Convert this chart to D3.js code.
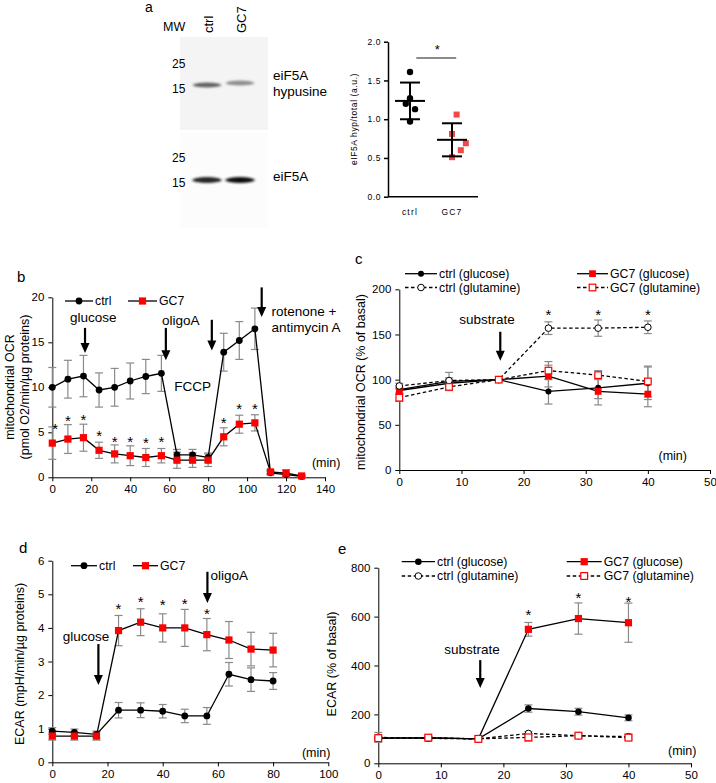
<!DOCTYPE html>
<html><head><meta charset="utf-8">
<script src="https://cdn.jsdelivr.net/npm/d3@7"></script>
<style>
body{margin:0;background:#fff;}
text{font-family:"Liberation Sans",Arial,sans-serif;fill:#000;}
</style></head>
<body>
<script>
// ---------------- DATA ----------------
// panel a : western blot + quantification
const blotLanes = ["ctrl", "GC7"];
const mwLabels = ["25", "15"];
const bandHypusine = [0.62, 0.42];   // relative band intensity
const bandTotal = [0.9, 1.0];
const ratioCtrl = [1.61, 1.27, 1.20, 1.13, 0.97];
const ratioGC7 = [1.06, 0.81, 0.69, 0.60, 0.51];
const jitterCtrl = [0, 0, -0.1, 0.12, 0];
const jitterGC7 = [0.11, 0, 0.33, 0.21, 0];
const scatterTicks = [0.0, 0.5, 1.0, 1.5, 2.0];

// panel b : mitochondrial OCR
const timeB = [0, 8, 16, 24, 32, 40, 48, 56, 64, 72, 80, 88, 96, 104, 112, 120, 128];
const ocrCtrl = [10.0, 10.9, 11.25, 9.7, 10.0, 10.7, 11.2, 11.55, 2.5, 2.5, 2.2, 13.9, 15.2, 16.5, 0.5, 0.3, 0.1];
const ocrCtrlErr = [2.2, 2.1, 2.3, 1.9, 2.1, 2.0, 1.9, 2.0, 0.6, 0.6, 0.5, 2.1, 2.1, 2.3, 0.2, 0.2, 0.1];
const ocrGC7 = [3.8, 4.25, 4.4, 3.0, 2.6, 2.4, 2.2, 2.4, 1.9, 1.9, 1.9, 4.5, 5.9, 6.05, 0.6, 0.45, 0.15];
const ocrGC7Err = [1.8, 1.6, 1.5, 0.9, 1.0, 1.1, 1.0, 0.8, 0.9, 0.8, 0.7, 1.0, 1.0, 0.9, 0.2, 0.4, 0.1];
const starTimeB = [1.5, 8, 16, 24, 32, 40, 48, 56, 88, 96, 104];
const starValB = [5.6, 6.5, 6.6, 4.8, 4.1, 4.1, 4.0, 4.1, 6.3, 7.8, 7.85];
const ticksXB = [0, 20, 40, 60, 80, 100, 120, 140];
const ticksYB = [0, 5, 10, 15, 20];

// panel c : OCR % of basal
const timeC = [0, 8, 16, 24, 32, 40];
const cCtrlGlc = [89, 98, 100, 87, 91, 96];
const cCtrlGlcErr = [4, 10, 0, 14, 12, 18];
const cGC7Glc = [88, 96, 100, 104, 87, 84];
const cGC7GlcErr = [3, 4, 0, 12, 15, 14];
const cCtrlGln = [93, 99, 100, 157, 157, 158];
const cCtrlGlnErr = [3, 3, 0, 7, 9, 7];
const cGC7Gln = [80, 92, 100, 110, 105, 98];
const cGC7GlnErr = [4, 4, 0, 10, 5, 17];
const starTimeC = [24, 32, 40];
const starValC = [174, 174, 174];
const ticksXC = [0, 10, 20, 30, 40, 50];
const ticksYC = [0, 50, 100, 150, 200];

// panel d : ECAR
const timeD = [0, 8, 16, 24, 32, 40, 48, 56, 64, 72, 80];
const ecarCtrl = [0.93, 0.89, 0.83, 1.55, 1.55, 1.52, 1.38, 1.38, 2.62, 2.46, 2.42];
const ecarCtrlErr = [0.1, 0.1, 0.1, 0.23, 0.22, 0.2, 0.2, 0.25, 0.35, 0.35, 0.25];
const ecarGC7 = [0.78, 0.78, 0.78, 3.92, 4.17, 4.0, 4.0, 3.8, 3.64, 3.37, 3.34];
const ecarGC7Err = [0.12, 0.12, 0.12, 0.45, 0.4, 0.42, 0.55, 0.48, 0.55, 0.5, 0.5];
const starTimeD = [24, 32, 40, 48, 56];
const starValD = [4.61, 4.83, 4.73, 4.76, 4.46];
const ticksXD = [0, 20, 40, 60, 80, 100];
const ticksYD = [0, 1, 2, 3, 4, 5, 6];

// panel e : ECAR % of basal
const timeE = [0, 8, 16, 24, 32, 40];
const eCtrlGlc = [104, 104, 100, 224, 211, 186];
const eCtrlGlcErr = [5, 4, 0, 15, 14, 12];
const eGC7Glc = [102, 104, 100, 548, 592, 575];
const eGC7GlcErr = [4, 4, 0, 28, 64, 80];
const eCtrlGln = [106, 102, 100, 122, 113, 109];
const eCtrlGlnErr = [20, 5, 0, 8, 8, 10];
const eGC7Gln = [103, 105, 100, 106, 113, 105];
const eGC7GlnErr = [5, 5, 0, 15, 8, 7];
const starTimeE = [24, 32, 40];
const starValE = [615, 683, 669];
const ticksXE = [0, 10, 20, 30, 40, 50];
const ticksYE = [0, 200, 400, 600, 800];

// ---------------- DRAW ----------------
const W = 716, H = 783;
const RED = "#ff0000";
const ERR = "#8a8a8a";
const svg = d3.select("body").append("svg").attr("width", W).attr("height", H);
const defs = svg.append("defs");
defs.append("filter").attr("id", "blur").attr("x", "-50%").attr("y", "-200%").attr("width", "200%").attr("height", "500%")
  .append("feGaussianBlur").attr("stdDeviation", "1.6 1.1");

function label(t, x, y, size, opts = {}) {
  const el = svg.append("text").attr("x", x).attr("y", y).attr("font-size", size).text(t);
  if (opts.anchor) el.attr("text-anchor", opts.anchor);
  if (opts.rotate) el.attr("transform", `rotate(-90,${x},${y})`);
  if (opts.ls) el.attr("letter-spacing", opts.ls);
  if (opts.db) el.attr("dominant-baseline", opts.db);
  return el;
}

// panel letters
label("a", 145, 12, 14);
label("b", 17, 282, 15);
label("c", 355, 264, 15);
label("d", 19, 553, 15);
label("e", 338, 554, 15);

// ---------- panel a : blot ----------
(function () {
  const lane = d3.scalePoint().domain(blotLanes).range([208, 241]);
  label("MW", 163, 31, 12.5);
  blotLanes.forEach(l => label(l, lane(l) + 5, 33, 13, { rotate: true }));
  svg.append("rect").attr("x", 180).attr("y", 37).attr("width", 88).attr("height", 93).attr("fill", "#f4f4f4");
  svg.append("rect").attr("x", 180).attr("y", 133).attr("width", 88).attr("height", 95).attr("fill", "#fcfcfc");
  const mwY1 = d3.scalePoint().domain(mwLabels).range([68, 93]);
  const mwY2 = d3.scalePoint().domain(mwLabels).range([162, 187]);
  mwLabels.forEach(m => { label(m, 172, mwY1(m), 12); label(m, 172, mwY2(m), 12); });
  const gray = d3.scaleLinear().domain([0, 1]).range([235, 15]);
  blotLanes.forEach((l, i) => {
    const g1 = Math.round(gray(bandHypusine[i]));
    svg.append("ellipse").attr("cx", lane(l) - 1).attr("cy", 85 - i * 2).attr("rx", 14).attr("ry", 2.6)
      .attr("fill", `rgb(${g1},${g1},${g1})`).attr("filter", "url(#blur)");
    const g2 = Math.round(gray(bandTotal[i]));
    svg.append("ellipse").attr("cx", lane(l) - 1).attr("cy", 180).attr("rx", 14.5).attr("ry", 3)
      .attr("fill", `rgb(${g2},${g2},${g2})`).attr("filter", "url(#blur)");
  });
  label("eiF5A", 273, 80, 13.5);
  label("hypusine", 273, 96, 13.5);
  label("eiF5A", 273, 181, 13.5);
})();

// ---------- panel a : scatter ----------
(function () {
  const y = d3.scaleLinear().domain([0, 2]).range([196.7, 41.7]);
  const xc = d3.scaleLinear().domain([0, 1]).range([410, 452]);
  const g = svg.append("g");
  const ax = g.append("g").attr("transform", "translate(388,0)")
    .call(d3.axisLeft(y).tickValues(scatterTicks).tickFormat(d3.format(".1f")).tickSize(4).tickSizeOuter(0).tickPadding(3));
  ax.selectAll("text").attr("font-size", 8.5).attr("letter-spacing", 0.6).style("font-family", '"Liberation Sans",Arial');
  ax.selectAll("line,path").attr("stroke", "#000").attr("stroke-width", 1.5);
  g.append("line").attr("x1", 388).attr("x2", 478).attr("y1", y(0)).attr("y2", y(0)).attr("stroke", "#000").attr("stroke-width", 1.5);
  ["ctrl", "GC7"].forEach((t, i) => label(t, xc(i), 215, 8.5, { anchor: "middle", ls: 1.2 }));
  label("eIF5A hyp/total (a.u.)", 357, 119, 8.5, { anchor: "middle", rotate: true, ls: 0.6 });
  const groups = [[ratioCtrl, jitterCtrl], [ratioGC7, jitterGC7]];
  groups.forEach(([vals, jit], i) => {
    const m = d3.mean(vals), s = d3.deviation(vals);
    const cx = xc(i);
    if (i === 0) {
      vals.forEach((v, k) => g.append("circle").attr("cx", xc(i + jit[k])).attr("cy", y(v)).attr("r", 3.2).attr("fill", "#000"));
    } else {
      vals.forEach((v, k) => g.append("rect").attr("x", xc(i + jit[k]) - 3).attr("y", y(v) - 3).attr("width", 6).attr("height", 6).attr("fill", "#f04848"));
    }
    g.append("line").attr("x1", cx - 15).attr("x2", cx + 15).attr("y1", y(m)).attr("y2", y(m)).attr("stroke", "#000").attr("stroke-width", 2);
    g.append("line").attr("x1", cx).attr("x2", cx).attr("y1", y(m + s)).attr("y2", y(m - s)).attr("stroke", "#000").attr("stroke-width", 2);
    [m + s, m - s].forEach(v => g.append("line").attr("x1", cx - 10).attr("x2", cx + 10).attr("y1", y(v)).attr("y2", y(v)).attr("stroke", "#000").attr("stroke-width", 2));
  });
  g.append("line").attr("x1", xc(0.15)).attr("x2", xc(1.1)).attr("y1", y(1.79)).attr("y2", y(1.79)).attr("stroke", "#666").attr("stroke-width", 1.5);
  label("*", xc(0.65), y(1.79) - 4, 13, { anchor: "middle" });
})();

// ---------- generic line panel ----------
function panel(cfg) {
  const x = d3.scaleLinear().domain(cfg.xd).range([cfg.x0, cfg.x1]);
  const y = d3.scaleLinear().domain(cfg.yd).range([cfg.y0, cfg.y1]);
  const g = svg.append("g");
  const ax = g.append("g").attr("transform", `translate(0,${cfg.y0})`)
    .call(d3.axisBottom(x).tickValues(cfg.xt).tickFormat(d3.format("d")).tickSize(4).tickSizeOuter(0).tickPadding(4));
  const ay = g.append("g").attr("transform", `translate(${cfg.x0},0)`)
    .call(d3.axisLeft(y).tickValues(cfg.yt).tickFormat(d3.format("d")).tickSize(4).tickSizeOuter(0).tickPadding(4));
  [ax, ay].forEach(a => {
    a.selectAll("text").attr("font-size", 11.5).style("font-family", '"Liberation Sans",Arial').attr("fill", "#000");
    a.selectAll("line,path").attr("stroke", "#000").attr("stroke-width", 1);
  });
  const line = d3.line().x(d => x(d[0])).y(d => y(d[1]));
  // error bars
  cfg.series.forEach(s => {
    s.t.forEach((t, i) => {
      const e = s.e[i];
      if (!e) return;
      const xx = x(t), a = y(s.v[i] + e), b = y(s.v[i] - e);
      g.append("line").attr("x1", xx).attr("x2", xx).attr("y1", a).attr("y2", b).attr("stroke", ERR).attr("stroke-width", 1.2);
      [a, b].forEach(yy => g.append("line").attr("x1", xx - 4).attr("x2", xx + 4).attr("y1", yy).attr("y2", yy).attr("stroke", ERR).attr("stroke-width", 1.2));
    });
  });
  // lines + markers
  cfg.series.forEach(s => {
    g.append("path").datum(s.t.map((t, i) => [t, s.v[i]])).attr("d", line).attr("fill", "none")
      .attr("stroke", "#000").attr("stroke-width", 1.3).attr("stroke-dasharray", s.dash ? "3.5,2.5" : null);
  });
  cfg.series.forEach(s => {
    s.t.forEach((t, i) => marker(g, s, x(t), y(s.v[i])));
  });
  // stars
  cfg.stars.t.forEach((t, i) => label("*", x(t), y(cfg.stars.v[i]) + 7, 15, { anchor: "middle" }));
  // arrows
  cfg.arrows.forEach(a => arrow(x(a.t), y(a.from), y(a.to)));
  cfg.texts.forEach(tx => label(tx.s, x(tx.t), y(tx.v), tx.size || 13.5, { anchor: tx.anchor || "middle" }));
  // legend
  cfg.legend.forEach(L => {
    g.append("line").attr("x1", L.x1).attr("x2", L.x2).attr("y1", L.y).attr("y2", L.y).attr("stroke", "#000")
      .attr("stroke-width", 1.3).attr("stroke-dasharray", L.s.dash ? "3.5,2.5" : null);
    marker(g, L.s, (L.x1 + L.x2) / 2, L.y);
    label(L.label, L.x2 + 2, L.y, 12.3, { db: "central" });
  });
  // y title
  cfg.ytitle.forEach(T => label(T.s, T.x, T.y, T.size || 12.5, { anchor: "middle", rotate: true, db: "central" }));
  return { x, y };
}
function marker(g, s, cx, cy) {
  if (s.m === "circle") {
    g.append("circle").attr("cx", cx).attr("cy", cy).attr("r", s.r)
      .attr("fill", s.open ? "#fff" : "#000").attr("stroke", "#000").attr("stroke-width", s.open ? 1 : 0);
  } else {
    const h = s.r;
    g.append("rect").attr("x", cx - h).attr("y", cy - h).attr("width", 2 * h).attr("height", 2 * h)
      .attr("fill", s.open ? "#fff" : RED).attr("stroke", RED).attr("stroke-width", s.open ? 1.2 : 0);
  }
}
function arrow(x, y1, y2) {
  svg.append("line").attr("x1", x).attr("x2", x).attr("y1", y1).attr("y2", y2 - 8).attr("stroke", "#000").attr("stroke-width", 2.2);
  svg.append("path").attr("d", `M${x - 4.5},${y2 - 10}L${x + 4.5},${y2 - 10}L${x},${y2}Z`).attr("fill", "#000");
}

// ---------- panel b ----------
const sCtrlB = { t: timeB, v: ocrCtrl, e: ocrCtrlErr, m: "circle", r: 3.4 };
const sGC7B = { t: timeB, v: ocrGC7, e: ocrGC7Err, m: "square", r: 3.6 };
panel({
  xd: [0, 140], yd: [0, 20], x0: 52.3, x1: 325, y0: 477.3, y1: 297.3, xt: ticksXB, yt: ticksYB,
  series: [sCtrlB, sGC7B],
  stars: { t: starTimeB, v: starValB },
  arrows: [{ t: 16.8, from: 16.6, to: 13.8 }, { t: 58.3, from: 16.6, to: 13.0 }, { t: 81.9, from: 17.5, to: 14.1 }, { t: 107.5, from: 21.1, to: 17.8 }],
  texts: [{ s: "glucose", t: 21, v: 17.3 }, { s: "oligoA", t: 66, v: 16.9 }, { s: "FCCP", t: 72, v: 9.6 },
    { s: "rotenone +", t: 112.5, v: 17.9, anchor: "start" }, { s: "antimycin A", t: 112.5, v: 16.2, anchor: "start" },
    { s: "(min)", t: 140.6, v: 1.2, size: 12.5 }],
  legend: [{ x1: 65, x2: 93, y: 301, s: sCtrlB, label: "ctrl" }, { x1: 128, x2: 157, y: 301, s: sGC7B, label: "GC7" }],
  ytitle: [{ s: "mitochondrial OCR", x: 10, y: 387 }, { s: "(pmol O2/min/µg proteins)", x: 25, y: 387 }]
});

// ---------- panel c ----------
const sCG = { t: timeC, v: cCtrlGlc, e: cCtrlGlcErr, m: "circle", r: 3 };
const sGG = { t: timeC, v: cGC7Glc, e: cGC7GlcErr, m: "square", r: 3.4 };
const sCQ = { t: timeC, v: cCtrlGln, e: cCtrlGlnErr, m: "circle", r: 3.3, open: true, dash: true };
const sGQ = { t: timeC, v: cGC7Gln, e: cGC7GlnErr, m: "square", r: 3.3, open: true, dash: true };
panel({
  xd: [0, 50], yd: [0, 200], x0: 399.3, x1: 710, y0: 470, y1: 289.3, xt: ticksXC, yt: ticksYC,
  series: [sCG, sGG, sCQ, sGQ],
  stars: { t: starTimeC, v: starValC },
  arrows: [{ t: 16.25, from: 153, to: 121 }],
  texts: [{ s: "substrate", t: 14.1, v: 161.5 }, { s: "(min)", t: 44, v: 11, size: 12.5 }],
  legend: [{ x1: 405, x2: 437, y: 273.7, s: sCG, label: "ctrl (glucose)" }, { x1: 577, x2: 608, y: 273.7, s: sGG, label: "GC7 (glucose)" },
    { x1: 405, x2: 437, y: 287.5, s: sCQ, label: "ctrl (glutamine)" }, { x1: 577, x2: 608, y: 287.5, s: sGQ, label: "GC7 (glutamine)" }],
  ytitle: [{ s: "mitochondrial OCR (% of basal)", x: 361, y: 382 }]
});

// ---------- panel d ----------
const sCtrlD = { t: timeD, v: ecarCtrl, e: ecarCtrlErr, m: "circle", r: 3.4 };
const sGC7D = { t: timeD, v: ecarGC7, e: ecarGC7Err, m: "square", r: 3.6 };
panel({
  xd: [0, 100], yd: [0, 6], x0: 52.3, x1: 328.3, y0: 762.3, y1: 560.7, xt: ticksXD, yt: ticksYD,
  series: [sCtrlD, sGC7D],
  stars: { t: starTimeD, v: starValD },
  arrows: [{ t: 16.7, from: 3.52, to: 2.3 }, { t: 56.2, from: 5.67, to: 4.74 }],
  texts: [{ s: "glucose", t: 12.2, v: 3.62 }, { s: "oligoA", t: 57.3, v: 5.42, anchor: "start" }, { s: "(min)", t: 95.6, v: 0.17, size: 12.5 }],
  legend: [{ x1: 71, x2: 97, y: 565.7, s: sCtrlD, label: "ctrl" }, { x1: 133, x2: 158, y: 565.7, s: sGC7D, label: "GC7" }],
  ytitle: [{ s: "ECAR (mpH/min/µg proteins)", x: 20, y: 664 }]
});

// ---------- panel e ----------
const sECG = { t: timeE, v: eCtrlGlc, e: eCtrlGlcErr, m: "circle", r: 3.3 };
const sEGG = { t: timeE, v: eGC7Glc, e: eGC7GlcErr, m: "square", r: 3.6 };
const sECQ = { t: timeE, v: eCtrlGln, e: eCtrlGlnErr, m: "circle", r: 3.3, open: true, dash: true };
const sEGQ = { t: timeE, v: eGC7Gln, e: eGC7GlnErr, m: "square", r: 3.4, open: true, dash: true };
panel({
  xd: [0, 50], yd: [0, 800], x0: 378.3, x1: 691, y0: 763.3, y1: 567.7, xt: ticksXE, yt: ticksYE,
  series: [sECG, sEGG, sECQ, sEGQ],
  stars: { t: starTimeE, v: starValE },
  arrows: [{ t: 16.3, from: 422, to: 308 }],
  texts: [{ s: "substrate", t: 15.0, v: 447 }, { s: "(min)", t: 48.6, v: 34, size: 12.5 }],
  legend: [{ x1: 401.7, x2: 435, y: 561.7, s: sECG, label: "ctrl (glucose)" }, { x1: 566.7, x2: 601.7, y: 561.7, s: sEGG, label: "GC7 (glucose)" },
    { x1: 401.7, x2: 435, y: 576, s: sECQ, label: "ctrl (glutamine)" }, { x1: 566.7, x2: 601.7, y: 576, s: sEGQ, label: "GC7 (glutamine)" }],
  ytitle: [{ s: "ECAR (% of basal)", x: 332, y: 664 }]
});
</script>
</body></html>
